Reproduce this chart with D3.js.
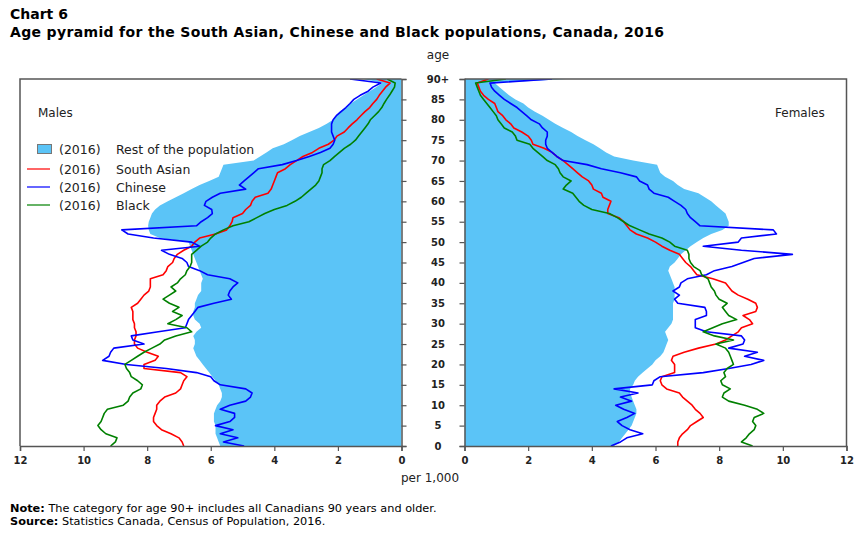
<!DOCTYPE html>
<html>
<head>
<meta charset="utf-8">
<script src="https://cdn.jsdelivr.net/npm/d3@7"></script>
<style>
    body { margin: 0; background: #fff; }
    svg { display: block; font-family: Verdana, "DejaVu Sans", sans-serif; }
</style>
</head>
<body>
<div id="chart"></div>
<script>
// ages 0..89 and the last one (90) stands for 90+
const AGES = d3.range(0, 91);
const AGE_TICKS = [0, 5, 10, 15, 20, 25, 30, 35, 40, 45, 50, 55, 60, 65, 70, 75, 80, 85, 90];
const AGE_TICK_LABELS = ['0', '5', '10', '15', '20', '25', '30', '35', '40', '45', '50', '55', '60', '65', '70', '75', '80', '85', '90+'];
const VALUE_TICKS = [0, 2, 4, 6, 8, 10, 12];

const SERIES_NAMES = ['Rest of the population', 'South Asian', 'Chinese', 'Black'];

// per 1,000, index = age
const MALE_REST = [
    5.7, 5.75, 5.8, 5.85, 5.85, 5.85, 5.9, 5.9, 5.9, 5.85,
    5.8, 5.7, 5.65, 5.65, 5.7, 5.75, 5.85, 5.95, 6.05, 6.15,
    6.25, 6.35, 6.45, 6.5, 6.55, 6.5, 6.5, 6.55, 6.45, 6.3,
    6.35, 6.5, 6.55, 6.55, 6.5, 6.5, 6.45, 6.4, 6.3, 6.3,
    6.3, 6.25, 6.3, 6.35, 6.4, 6.45, 6.5, 6.55, 6.6, 6.65,
    6.7, 7.6, 7.9, 7.95, 7.97, 7.95, 7.9, 7.85, 7.75, 7.6,
    7.35, 7.1, 6.85, 6.6, 6.35, 6.05, 5.75, 5.7, 5.65, 5.6,
    4.65, 4.45, 4.25, 4.05, 3.7, 3.45, 3.2, 2.9, 2.6, 2.35,
    2.15, 2.05, 1.95, 1.75, 1.6, 1.4, 1.2, 1.0, 0.8, 0.6,
    1.2
];
const MALE_SOUTH_ASIAN = [
    6.85, 6.9, 7.0, 7.25, 7.55, 7.7, 7.8, 7.8, 7.75, 7.7,
    7.7, 7.6, 7.45, 7.1, 6.95, 6.9, 6.85, 6.75, 6.95, 8.1,
    8.1, 7.75, 7.65, 8.0, 8.3, 8.4, 8.4, 8.35, 8.35, 8.4,
    8.4, 8.45, 8.45, 8.45, 8.5, 8.3, 8.2, 8.1, 7.95, 7.9,
    7.9, 7.9, 7.5, 7.4, 7.35, 7.2, 7.15, 7.05, 6.85, 6.6,
    6.5, 6.35, 5.85, 5.5, 5.4, 5.33, 5.3, 5.0, 4.9, 4.75,
    4.7, 4.6, 4.2, 4.1, 4.05, 4.0, 3.95, 3.9, 3.65, 3.5,
    3.3, 3.1, 2.8, 2.6, 2.3, 2.12, 2.03, 1.8, 1.68, 1.55,
    1.4, 1.28, 1.15, 1.0, 0.9, 0.78, 0.7, 0.6, 0.5, 0.36,
    0.78
];
const MALE_CHINESE = [
    4.95, 5.6, 5.15, 5.7, 5.3, 5.85, 5.4, 5.25, 5.25, 5.7,
    5.4, 4.9, 4.75, 4.7, 4.9, 5.7, 5.9, 6.0, 6.45, 7.4,
    8.65, 9.4, 9.2, 9.15, 9.05, 8.1, 8.45, 8.5, 7.65, 6.8,
    6.75, 6.7, 6.6, 6.5, 6.4, 5.9, 5.35, 5.45, 5.4, 5.3,
    5.15, 5.4, 6.1, 6.35, 6.7, 6.75, 6.9, 7.3, 7.55, 6.35,
    6.6, 7.8, 8.6, 8.8, 6.45, 6.3, 6.1, 5.95, 5.97, 6.2,
    6.15, 5.95, 5.7, 4.9, 5.1, 4.95, 4.8, 4.65, 4.5, 3.75,
    3.3, 2.9, 2.55, 2.25, 2.15, 2.1, 2.15, 2.2, 2.2, 2.2,
    2.15, 2.05, 1.9, 1.75, 1.62, 1.5, 1.3, 1.05, 0.9, 0.65,
    1.62
];
const MALE_BLACK = [
    9.15, 9.0, 8.95, 9.3, 9.45, 9.55, 9.45, 9.4, 9.35, 9.25,
    8.75, 8.6, 8.55, 8.45, 8.2, 8.15, 8.3, 8.5, 8.55, 8.65,
    8.7, 8.5, 8.3, 8.1, 7.85, 7.6, 7.45, 7.1, 6.6, 6.75,
    7.35, 7.1, 6.9, 7.2, 7.0, 7.3, 7.5, 7.3, 7.1, 7.25,
    7.05, 6.95, 6.8, 6.75, 6.65, 6.6, 6.6, 6.6, 6.45, 6.3,
    6.1, 6.0, 5.85, 5.6, 5.3, 4.8, 4.55, 4.3, 4.0, 3.6,
    3.35, 3.15, 3.0, 2.85, 2.7, 2.6, 2.55, 2.5, 2.5, 2.45,
    2.25, 2.1, 1.95, 1.8, 1.6, 1.45, 1.35, 1.25, 1.15, 1.05,
    0.98, 0.85, 0.72, 0.62, 0.55, 0.47, 0.38, 0.3, 0.22, 0.2,
    0.45
];

const FEMALE_REST = [
    4.7, 4.85, 4.95, 5.05, 5.15, 5.25, 5.3, 5.35, 5.4, 5.4,
    5.35, 5.3, 5.25, 5.2, 5.2, 5.3, 5.35, 5.45, 5.6, 5.75,
    5.9, 6.0, 6.15, 6.25, 6.3, 6.35, 6.4, 6.35, 6.3, 6.4,
    6.5, 6.55, 6.55, 6.55, 6.55, 6.55, 6.6, 6.6, 6.6, 6.6,
    6.55, 6.5, 6.45, 6.4, 6.45, 6.6, 6.7, 6.8, 6.95, 7.1,
    7.3, 7.5, 7.75, 8.1, 8.3, 8.3, 8.25, 8.2, 8.05, 7.9,
    7.75, 7.55, 7.35, 6.9, 6.7, 6.55, 6.3, 6.15, 6.1, 6.05,
    5.3, 4.7, 4.45, 4.25, 4.05, 3.8, 3.55, 3.35, 3.1, 2.85,
    2.65, 2.45, 2.2, 2.0, 1.85, 1.6, 1.4, 1.25, 1.1, 0.95,
    3.2
];
const FEMALE_SOUTH_ASIAN = [
    6.7, 6.7, 6.75, 6.85, 7.0, 7.1, 7.3, 7.5, 7.4, 7.25,
    7.15, 7.0, 6.85, 6.75, 6.35, 6.2, 6.15, 6.2, 6.6, 6.6,
    6.6, 6.5, 6.55, 6.9, 7.35, 7.9, 8.2, 8.4, 8.6, 8.7,
    9.05, 8.95, 8.75, 9.15, 9.2, 9.15, 8.9, 8.6, 8.4, 8.3,
    8.2, 7.8, 7.3, 7.2, 7.1, 6.95, 6.85, 6.75, 6.45, 6.2,
    6.0, 5.75, 5.4, 5.2, 5.1, 5.0, 4.85, 4.5, 4.5, 4.55,
    4.6, 4.35, 4.3, 4.05, 4.0, 3.9, 3.7, 3.55, 3.4, 3.25,
    3.1, 2.9, 2.75, 2.5, 2.15, 2.1, 2.0, 1.8, 1.55, 1.45,
    1.3, 1.2, 1.05, 1.0, 0.95, 0.75, 0.6, 0.5, 0.45, 0.4,
    0.75
];
const FEMALE_CHINESE = [
    4.6, 4.9, 5.1, 5.6, 5.2, 4.95, 4.8, 5.1, 5.35, 5.0,
    4.75, 5.25, 4.9, 5.45, 4.7, 5.9, 5.95, 6.15, 7.5, 8.3,
    9.0, 9.4, 8.8, 9.2, 8.3, 8.75, 8.8, 8.7, 7.6, 7.25,
    7.25, 7.25, 7.6, 7.6, 7.55, 6.7, 6.6, 6.75, 6.55, 6.75,
    6.8, 7.0, 7.6, 7.85, 8.4, 8.75, 9.1, 10.3, 8.7, 7.5,
    8.6, 8.7, 9.8, 9.7, 7.4, 7.25, 7.1, 7.0, 6.95, 6.8,
    6.6, 6.4, 5.95, 5.8, 5.75, 5.5, 5.4, 4.9, 4.3, 3.85,
    3.1, 2.9, 2.75, 2.6, 2.55, 2.55, 2.6, 2.6, 2.45, 2.35,
    2.1, 1.95, 1.8, 1.65, 1.45, 1.25, 1.1, 0.95, 0.85, 0.8,
    2.75
];
const FEMALE_BLACK = [
    9.05, 8.7, 8.85, 8.95, 9.1, 9.15, 9.05, 9.1, 9.4, 9.2,
    8.8, 8.3, 8.1, 8.15, 8.35, 8.1, 8.05, 8.2, 8.15, 8.25,
    8.45, 8.4, 8.35, 8.3, 8.2, 7.9, 8.45, 7.85, 7.5, 7.8,
    8.1, 8.55, 8.3, 8.2, 8.1, 8.25, 8.0, 7.9, 7.85, 7.75,
    7.7, 7.65, 7.45, 7.4, 7.2, 7.1, 7.05, 7.05, 7.0, 6.6,
    6.45, 6.2, 5.8, 5.5, 5.2, 5.0, 4.8, 4.55, 4.0, 3.75,
    3.6, 3.5, 3.4, 3.1, 3.2, 3.35, 3.1, 3.0, 2.95, 2.85,
    2.6, 2.45, 2.3, 2.15, 2.05, 1.65, 1.6, 1.5, 1.25, 1.15,
    1.05, 1.0, 0.9, 0.8, 0.7, 0.6, 0.5, 0.45, 0.4, 0.35,
    1.3
];

const WIDTH = 866;
const HEIGHT = 533;
const PLOT_TOP = 79;
const PLOT_BOTTOM = 446;
const LEFT_RANGE = [401.5, 20];     // 0 -> 12 for males
const RIGHT_RANGE = [464.5, 846.5]; // 0 -> 12 for females
const AGE_LABEL_X = 438;

const COLORS = {
    rest: '#5bc4f7',
    southAsian: '#ff0000',
    chinese: '#0000ff',
    black: '#008000',
    frame: '#555555',
    text: '#222222'
};

const svg = d3.select('#chart').append('svg')
    .attr('width', WIDTH)
    .attr('height', HEIGHT);

const y = d3.scaleLinear()
    .domain([0, 90])
    .range([PLOT_BOTTOM, PLOT_TOP]);

const renderPanel = (id, range, rest, lines) => {
    const x = d3.scaleLinear().domain([0, 12]).range(range);
    const [x0, x1] = [Math.min(...range), Math.max(...range)];

    svg.append('clipPath')
        .attr('id', `clip-${id}`)
        .append('rect')
        .attr('x', x0)
        .attr('y', PLOT_TOP)
        .attr('width', x1 - x0)
        .attr('height', PLOT_BOTTOM - PLOT_TOP);

    const g = svg.append('g').attr('clip-path', `url(#clip-${id})`);

    const area = d3.area()
        .y((d, i) => y(AGES[i]))
        .x0(x(0))
        .x1(d => x(d));
    g.append('path')
        .attr('d', area(rest))
        .attr('fill', COLORS.rest);

    const line = d3.line()
        .y((d, i) => y(AGES[i]))
        .x(d => x(d));
    lines.forEach(({ values, color }) => {
        g.append('path')
            .attr('d', line(values))
            .attr('fill', 'none')
            .attr('stroke', color)
            .attr('stroke-width', 1.6)
            .attr('stroke-linejoin', 'round');
    });

    // frame (top + outer side), the inner side is the age axis
    const outer = x(12);
    const inner = x(0);
    svg.append('path')
        .attr('d', `M${inner},${PLOT_TOP}H${outer}V${PLOT_BOTTOM}`)
        .attr('fill', 'none')
        .attr('stroke', COLORS.frame)
        .attr('stroke-width', 1.5);

    // bottom axis
    const axisBottom = svg.append('g')
        .attr('transform', `translate(0, ${PLOT_BOTTOM})`)
        .call(d3.axisBottom(x).tickValues(VALUE_TICKS).tickSize(5).tickPadding(6).tickFormat(d3.format('d')));
    axisBottom.select('.domain').attr('stroke', COLORS.frame).attr('stroke-width', 1.5);
    axisBottom.selectAll('.tick line').attr('stroke', COLORS.frame).attr('stroke-width', 1.2);
    axisBottom.selectAll('.tick text')
        .attr('fill', COLORS.text)
        .attr('font-size', 10)
        .attr('font-weight', 'bold')
        .attr('font-family', 'Verdana, "DejaVu Sans", sans-serif');

    // age axis on the inner side of the panel
    const side = range[0] > range[1] ? d3.axisRight : d3.axisLeft;
    const axisAge = svg.append('g')
        .attr('transform', `translate(${inner}, 0)`)
        .call(side(y).tickValues(AGE_TICKS).tickSize(5).tickFormat(''));
    axisAge.select('.domain').attr('stroke', COLORS.frame).attr('stroke-width', 1.5);
    axisAge.selectAll('.tick line').attr('stroke', COLORS.frame).attr('stroke-width', 1.2);
};

renderPanel('males', LEFT_RANGE, MALE_REST, [
    { values: MALE_SOUTH_ASIAN, color: COLORS.southAsian },
    { values: MALE_CHINESE, color: COLORS.chinese },
    { values: MALE_BLACK, color: COLORS.black }
]);
renderPanel('females', RIGHT_RANGE, FEMALE_REST, [
    { values: FEMALE_SOUTH_ASIAN, color: COLORS.southAsian },
    { values: FEMALE_CHINESE, color: COLORS.chinese },
    { values: FEMALE_BLACK, color: COLORS.black }
]);

// age labels between the panels
svg.append('g')
    .selectAll('text')
    .data(AGE_TICKS)
    .join('text')
    .attr('x', AGE_LABEL_X)
    .attr('y', d => y(d))
    .attr('dy', '0.36em')
    .attr('text-anchor', 'middle')
    .attr('font-size', 10)
    .attr('font-weight', 'bold')
    .attr('fill', COLORS.text)
    .text((d, i) => AGE_TICK_LABELS[i]);

const addText = (x, yPos, text, opts = {}) => {
    const t = svg.append('text')
        .attr('x', x)
        .attr('y', yPos)
        .attr('font-size', opts.size || 12)
        .attr('font-weight', opts.weight || 'normal')
        .attr('text-anchor', opts.anchor || 'start')
        .attr('fill', opts.color || COLORS.text)
        .text(text);
    if (opts.length) {
        t.attr('textLength', opts.length).attr('lengthAdjust', 'spacing');
    }
    return t;
};

addText(10, 19, 'Chart 6', { size: 14, weight: 'bold', color: '#000' });
addText(10, 37, 'Age pyramid for the South Asian, Chinese and Black populations, Canada, 2016', { size: 14, weight: 'bold', color: '#000', length: 654 });
addText(AGE_LABEL_X, 59, 'age', { anchor: 'middle' });
addText(430, 482, 'per 1,000', { anchor: 'middle' });
addText(38, 117, 'Males');
addText(775, 117, 'Females');

// legend
const legendRows = [
    { name: SERIES_NAMES[0], color: COLORS.rest, type: 'box', y: 149 },
    { name: SERIES_NAMES[1], color: COLORS.southAsian, type: 'line', y: 169 },
    { name: SERIES_NAMES[2], color: COLORS.chinese, type: 'line', y: 187 },
    { name: SERIES_NAMES[3], color: COLORS.black, type: 'line', y: 205 }
];
const legend = svg.append('g');
legendRows.forEach(row => {
    if (row.type === 'box') {
        legend.append('rect')
            .attr('x', 37.5).attr('y', row.y - 4.5)
            .attr('width', 14).attr('height', 9)
            .attr('fill', row.color)
            .attr('stroke', '#777');
    } else {
        legend.append('line')
            .attr('x1', 27).attr('x2', 50)
            .attr('y1', row.y).attr('y2', row.y)
            .attr('stroke', row.color)
            .attr('stroke-width', 1.2);
    }
    legend.append('text')
        .attr('x', 59).attr('y', row.y).attr('dy', '0.36em')
        .attr('font-size', 12.5).attr('fill', COLORS.text)
        .text('(2016)');
    legend.append('text')
        .attr('x', 116).attr('y', row.y).attr('dy', '0.36em')
        .attr('font-size', 12.5).attr('fill', COLORS.text)
        .text(row.name);
});

// notes
const note = svg.append('g').attr('font-size', 11.3).attr('fill', '#000');
const n1 = note.append('text').attr('x', 10).attr('y', 512);
n1.append('tspan').attr('font-weight', 'bold').text('Note:');
n1.append('tspan').text(' The category for age 90+ includes all Canadians 90 years and older.');
const n2 = note.append('text').attr('x', 10).attr('y', 525);
n2.append('tspan').attr('font-weight', 'bold').text('Source:');
n2.append('tspan').text(' Statistics Canada, Census of Population, 2016.');
</script>
</body>
</html>
